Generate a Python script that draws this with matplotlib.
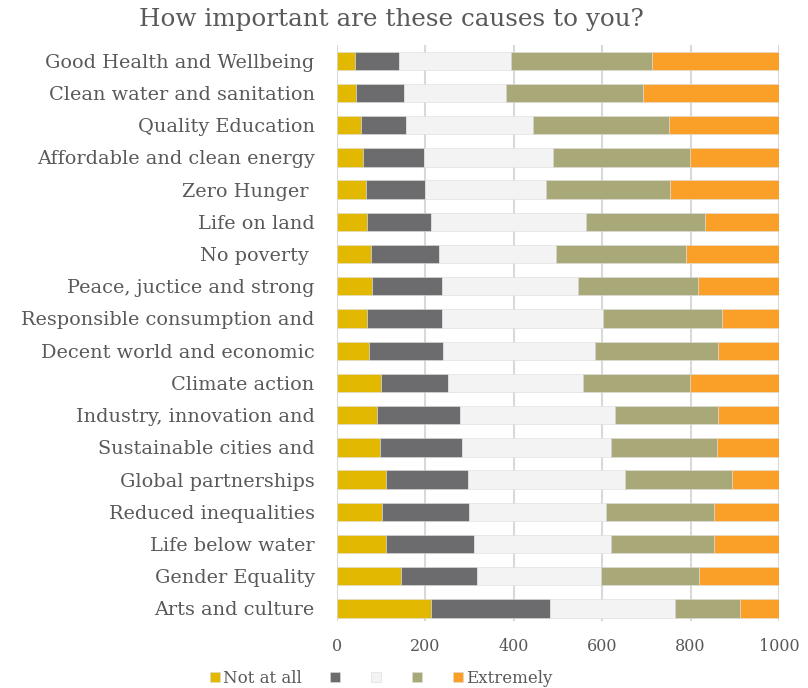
# stacked bar chart of how important each cause is
import matplotlib.pyplot as plt

causes = ['Good Health and Wellbeing', 'Clean water and sanitation', 'Quality Education',
          'Affordable and clean energy', 'Zero Hunger ', 'Life on land', 'No poverty ',
          'Peace, juctice and strong', 'Responsible consumption and', 'Decent world and economic',
          'Climate action', 'Industry, innovation and', 'Sustainable cities and',
          'Global partnerships', 'Reduced inequalities', 'Life below water', 'Gender Equality',
          'Arts and culture']

# answer counts per level, 1 = not at all ... 5 = extremely
not_at_all = [42, 44, 54, 58, 66, 68, 78, 80, 68, 72, 100, 90, 97, 112, 103, 112, 145, 212]
level2 = [98, 107, 102, 138, 134, 144, 154, 157, 169, 167, 151, 188, 186, 185, 195, 198, 171, 270]
level3 = [253, 231, 288, 292, 273, 352, 263, 309, 366, 344, 305, 351, 337, 354, 311, 311, 281, 282]
level4 = [320, 311, 308, 311, 281, 269, 294, 270, 269, 279, 243, 233, 240, 243, 245, 233, 223, 149]
extremely = [287, 307, 248, 201, 246, 167, 211, 184, 128, 138, 201, 138, 140, 106, 146, 146, 180, 87]

series = [not_at_all, level2, level3, level4, extremely]
names = ['Not at all', '', '', '', 'Extremely']
colors = ['#E2B900', '#6C6C6E', '#F2F3F2', '#A9A878', '#FAA029']

txt = '#595959'
font = 'DejaVu Serif'

fig = plt.figure(figsize=(8.08, 6.88), dpi=100)
ax = fig.add_axes([0.417, 0.097, 0.547, 0.838])

y = range(len(causes))
left = [0] * len(causes)
bars = []
for vals, c in zip(series, colors):
    b = ax.barh(y, vals, left=left, height=0.57, color=c, edgecolor='#dcdcdc', linewidth=0.4, zorder=3)
    bars.append(b)
    left = [l + v for l, v in zip(left, vals)]

ax.set_ylim(17.4, -0.5)
ax.set_xlim(0, 1000)
ax.set_xticks([0, 200, 400, 600, 800, 1000])
ax.set_yticks(list(y))
ax.set_yticklabels(causes, fontsize=13.9, color=txt, family=font)
for lab in ax.get_xticklabels():
    lab.set_family(font)
ax.tick_params(axis='x', length=0, pad=12, labelsize=11.5, labelcolor=txt)
ax.tick_params(axis='y', length=0, pad=16)
ax.grid(axis='x', color='#d9d9d9', linewidth=1.5, zorder=0)
for s in ax.spines.values():
    s.set_visible(False)

fig.suptitle('How important are these causes to you?', x=0.484, y=0.988, fontsize=17.7,
             color=txt, family=font)

handles = [b[0] for b in bars]
fig.legend(handles, names, loc='lower center', bbox_to_anchor=(0.472, -0.02), ncol=5,
           frameon=False, handlelength=0.6, handleheight=0.6, handletextpad=0.2,
           columnspacing=1.66, prop={'family': font, 'size': 12}, labelcolor=txt)

plt.savefig('out.png')
